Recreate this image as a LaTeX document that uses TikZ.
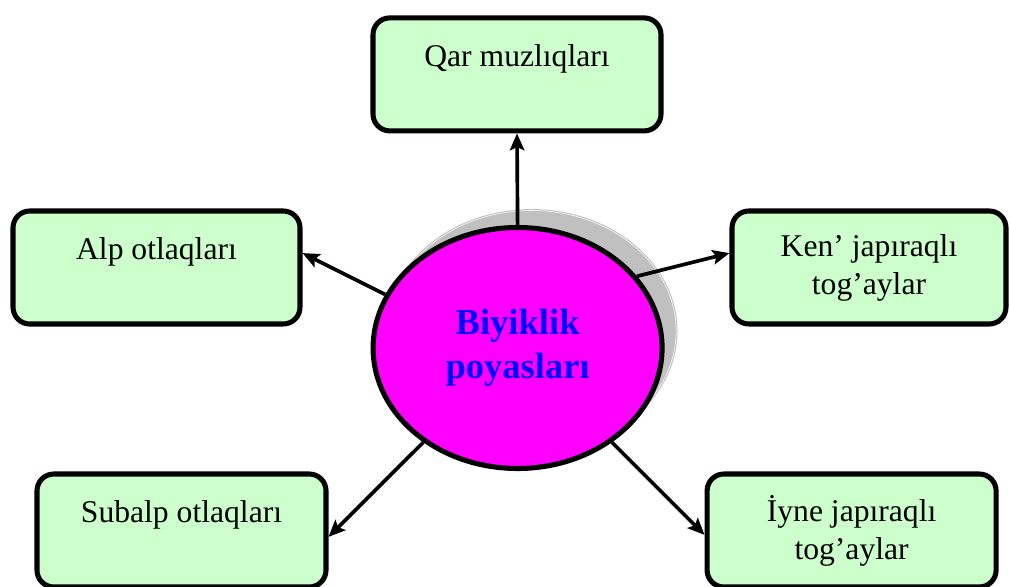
\documentclass[tikz,border=0pt]{standalone}
\usepackage{fontspec}
\setmainfont{Liberation Serif}
\usetikzlibrary{positioning,arrows.meta,shapes.geometric}

\definecolor{boxgreen}{RGB}{204,255,204}
\definecolor{shadegray}{RGB}{192,192,192}
\definecolor{beltpink}{RGB}{255,0,255}
\definecolor{beltblue}{RGB}{0,0,255}

\begin{document}
\begin{tikzpicture}[
  box/.style={rectangle, rounded corners=0.42cm, draw=black, line width=3.6pt, fill=boxgreen, align=center,
    minimum height=2.825cm, inner sep=0pt, font=\fontsize{22.5}{27}\selectfont},
  zone/.style={ellipse, draw=black, line width=3.6pt, fill=beltpink, align=center, inner sep=0pt,
    minimum width=7.225cm, minimum height=6.025cm, text=beltblue, font=\fontsize{26}{31.2}\selectfont\bfseries},
  shade/.style={ellipse, fill=shadegray, draw=shadegray, double=white, double distance=0.4pt, line width=0.8pt,
    inner sep=0pt, minimum width=7.225cm, minimum height=6.025cm},
  arrow/.style={-{Stealth[length=0.42cm, width=0.36cm, inset=0.08cm]}, line width=2.6pt}
]
\clip (0,0) rectangle (25.25,14.65);
\useasboundingbox (0,0) rectangle (25.25,14.65);

% Centre: belt ellipse with its shadow
\node[shade] (shadow) at (13.29,6.375) {};
\node[zone] (belt) at (12.94,5.95) {\raisebox{-0.2cm}{\begin{tabular}{@{}c@{}}Biyiklik\\poyasları\end{tabular}}};

% Surrounding zones
\node[box, minimum width=7.2cm] (qar) at (12.925,12.79) {Qar muzlıqları\\ \mbox{}};
\node[box, minimum width=7.175cm] (alp) at (3.9125,7.9625) {Alp otlaqları\\ \mbox{}};
\node[box, minimum width=6.85cm] (ken) at (21.725,7.9625) {Ken’ japıraqlı\\tog’aylar};
\node[box, minimum width=7.225cm] (subalp) at (4.5375,1.3875) {Subalp otlaqları\\ \mbox{}};
\node[box, minimum width=7.225cm] (iyne) at (21.29,1.3875) {İyne japıraqlı\\tog’aylar};

% Arrows from the centre
\draw[arrow] (belt.north) -- (qar.south);
\draw[arrow] (belt.158) -- ([yshift=0.36cm]alp.east);
\draw[arrow] (belt.31) -- ([yshift=0.36cm]ken.west);
\draw[arrow] (belt.225) -- ([yshift=-0.16cm]subalp.east);
\draw[arrow] (belt.-45) -- ([yshift=-0.11cm]iyne.west);

\end{tikzpicture}
\end{document}
